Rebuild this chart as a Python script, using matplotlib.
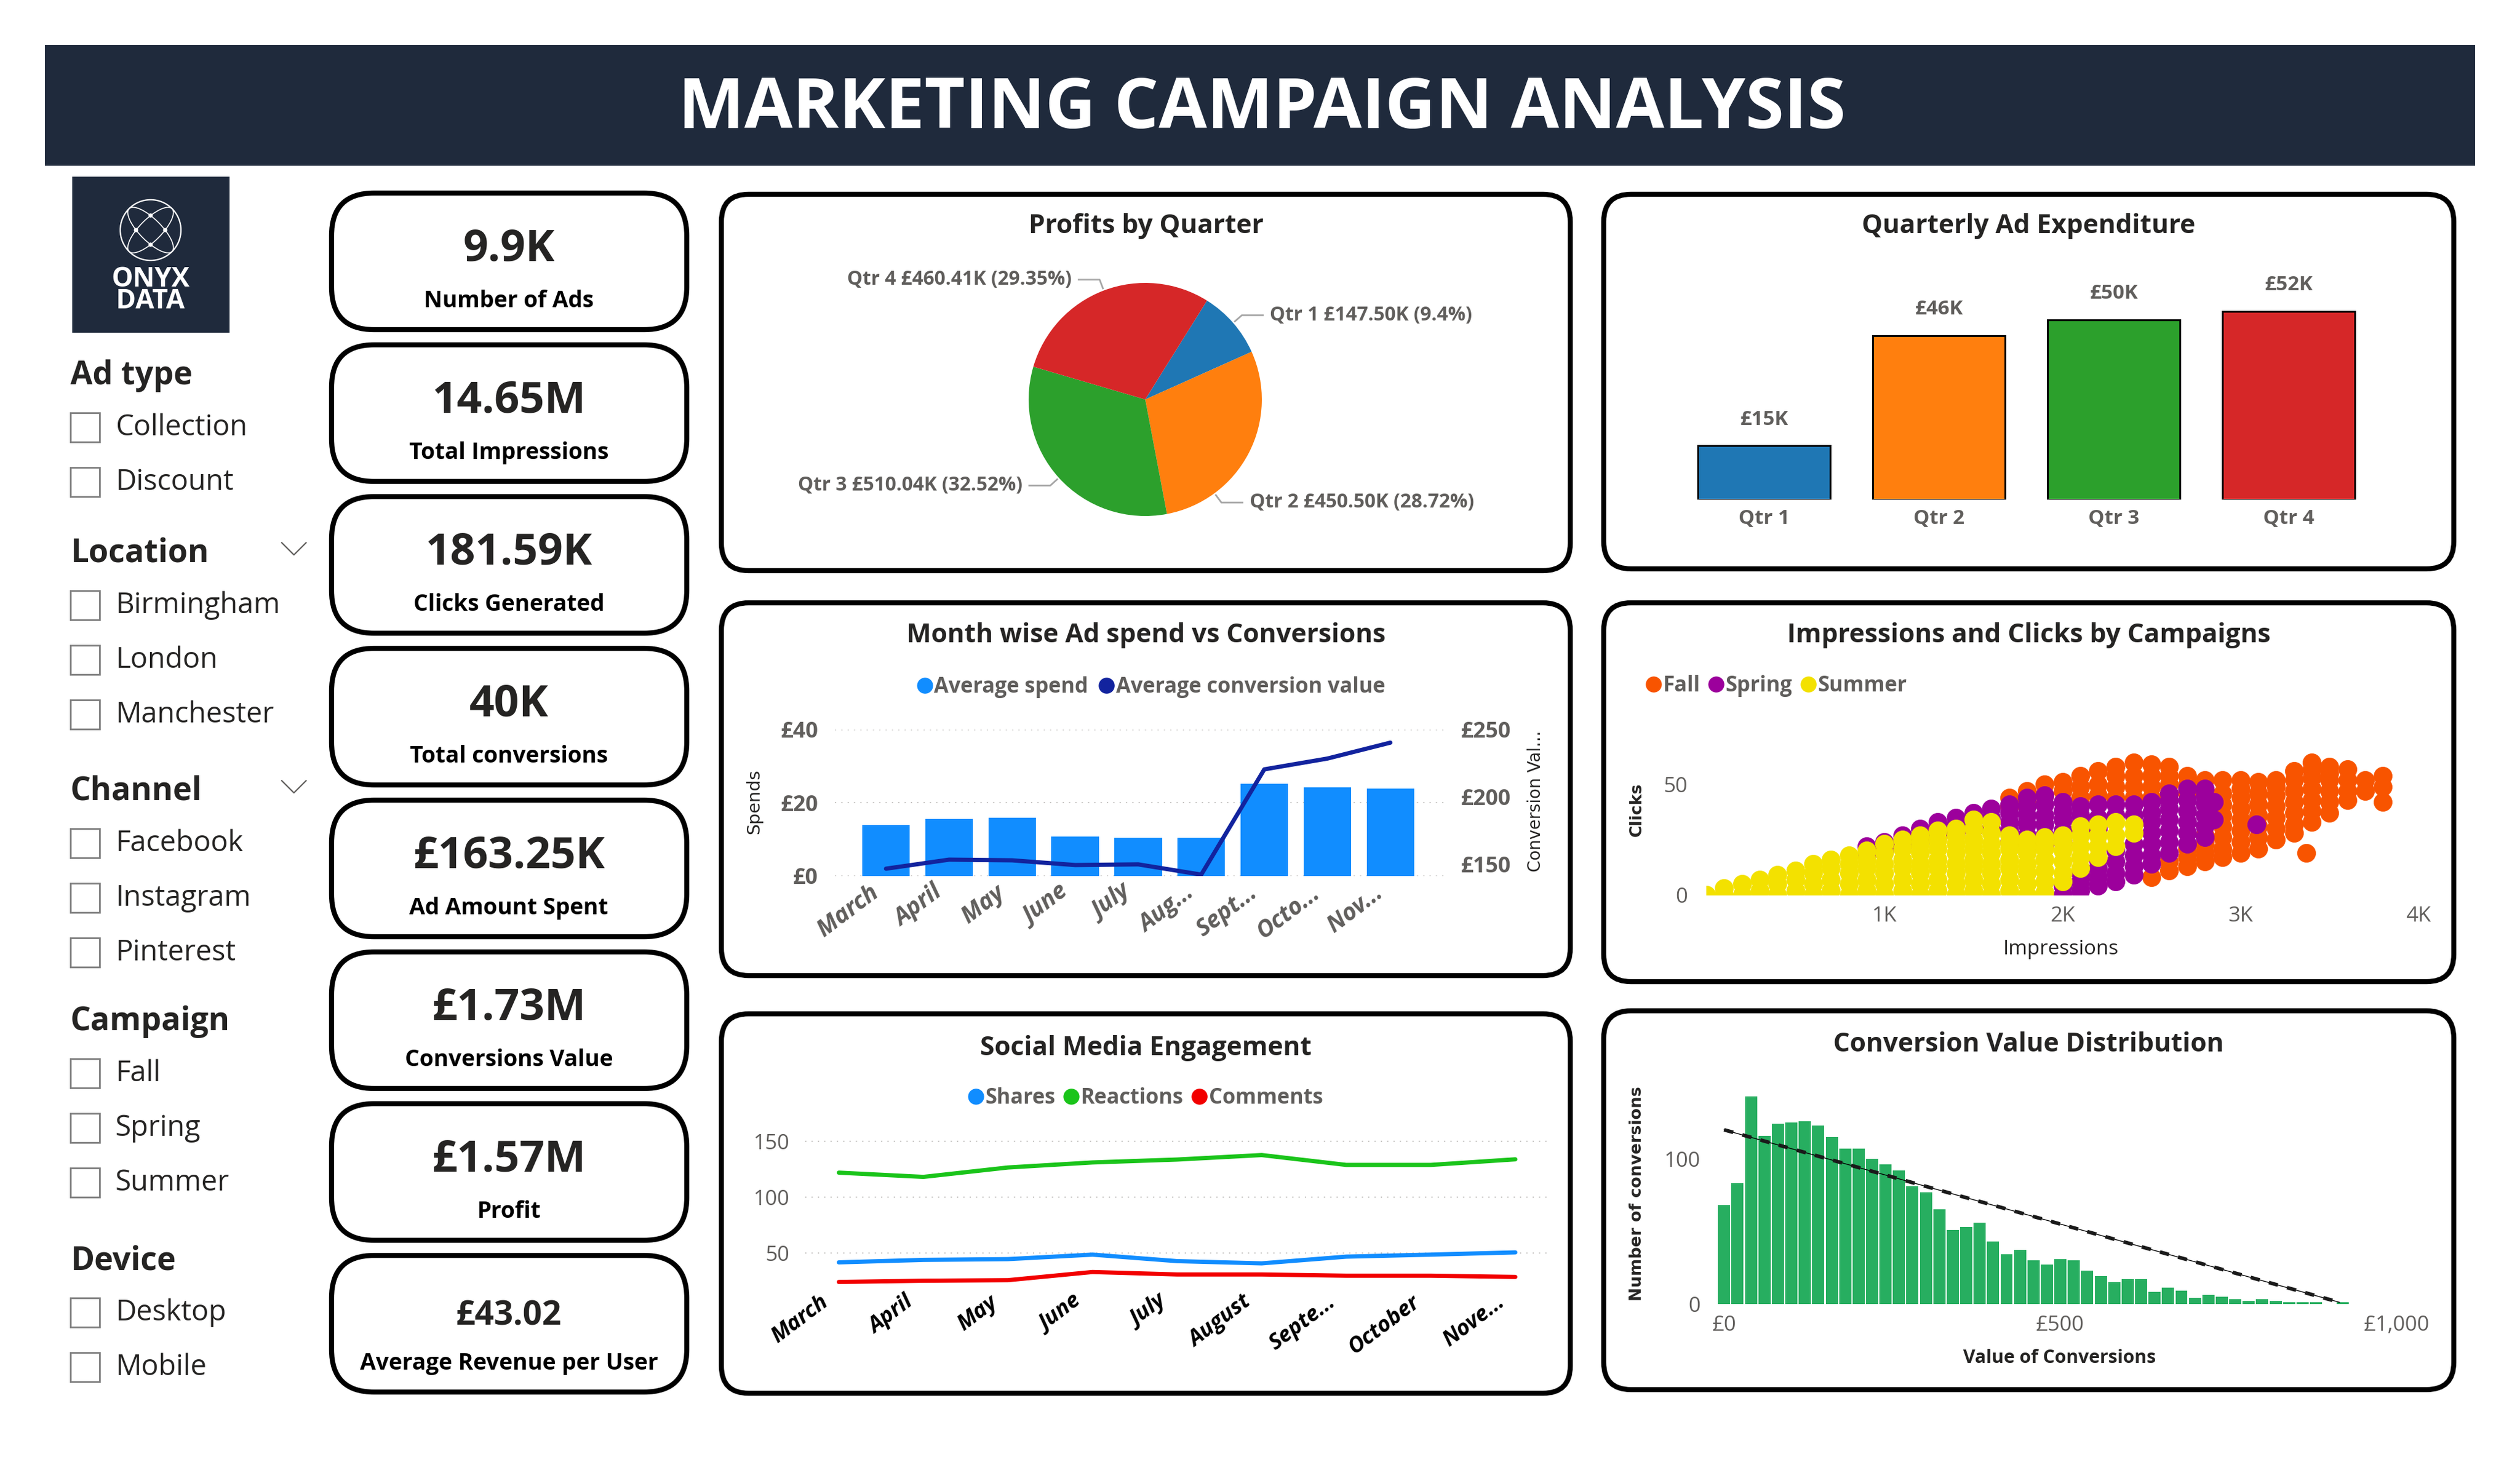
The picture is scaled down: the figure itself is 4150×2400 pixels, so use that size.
import matplotlib
matplotlib.use("Agg")
import matplotlib.pyplot as plt
import numpy as np
from matplotlib.patches import FancyBboxPatch, Rectangle, Circle, Ellipse
from matplotlib.lines import Line2D

plt.rcParams['font.family'] = ['Open Sans', 'DejaVu Sans']

W, H = 4150, 2400
NAVY = '#1f2a3c'
DARK = '#252423'
GRAY = '#605e5c'

# ---------------- data ----------------
kpi_values = ["9.9K", "14.65M", "181.59K", "40K", "£163.25K", "£1.73M", "£1.57M", "£43.02"]
kpi_labels = ["Number of Ads", "Total Impressions", "Clicks Generated", "Total conversions",
              "Ad Amount Spent", "Conversions Value", "Profit", "Average Revenue per User"]

filter_groups = ["Ad type", "Location", "Channel", "Campaign", "Device"]
filter_items = [["Collection", "Discount"],
                ["Birmingham", "London", "Manchester"],
                ["Facebook", "Instagram", "Pinterest"],
                ["Fall", "Spring", "Summer"],
                ["Desktop", "Mobile"]]
filter_dropdown = [False, True, True, False, False]

quarters = ["Qtr 1", "Qtr 2", "Qtr 3", "Qtr 4"]
profit_k = [147.50, 450.50, 510.04, 460.41]
profit_pct = ["9.4%", "28.72%", "32.52%", "29.35%"]
ad_spend_k = [15.0, 45.7, 50.1, 52.4]
quarter_colors = ['#1f77b4', '#ff7f0e', '#2ca02c', '#d62728']

months_short = ["March", "April", "May", "June", "July", "Aug...", "Sept...", "Octo...", "Nov..."]
avg_spend = [13.9, 15.5, 15.9, 10.7, 10.4, 10.4, 25.2, 24.2, 23.9]
avg_conv_value = [146.8, 153.5, 153.0, 149.5, 150.0, 142.4, 220.4, 228.4, 240.2]

months_social = ["March", "April", "May", "June", "July", "August", "Septe...", "October", "Nove..."]
shares = [41.8, 44.0, 44.7, 48.7, 42.9, 40.9, 46.9, 48.7, 50.7]
reactions = [121.9, 118.1, 126.5, 131.0, 133.6, 137.6, 128.8, 128.8, 133.8]
comments = [24.3, 25.4, 25.9, 33.2, 31.0, 31.0, 29.9, 29.9, 28.8]

# histogram of conversion values, bins of £20 starting at £0
conv_bin_width = 20
conv_counts = [68, 83, 143, 116, 124, 125, 126, 123, 115, 107, 107, 100, 96, 92, 81, 77,
               65, 51, 53, 56, 43, 34, 37, 30, 27, 31, 30, 23, 19, 15, 17, 17, 8, 11, 9,
               4, 6, 5, 3, 2, 3, 2, 1, 1, 1, 0, 1]
trend_x = [0, 915]
trend_y = [120, 1]

# scatter: impressions column -> clicks of the points in that column
fall_pts = {
    1700: [40, 44], 1800: [42, 47], 1900: [45, 50], 2000: [47, 51],
    2100: [44, 49, 54], 2200: [45, 50, 56], 2300: [44, 49, 54, 58],
    2400: [44, 49, 54, 60], 2500: [8, 44, 49, 54, 59], 2600: [11, 15, 46, 50, 54, 58],
    2700: [13, 17, 21, 46, 50, 54], 2800: [15, 19, 23, 27, 47, 52],
    2900: [17, 21, 26, 31, 36, 41, 46, 52], 3000: [19, 24, 29, 34, 39, 44, 48, 52],
    3100: [21, 26, 31, 36, 41, 46, 51], 3200: [25, 30, 35, 40, 45, 49, 52],
    3300: [28, 32, 37, 42, 47, 52, 56], 3370: [19], 3400: [33, 38, 43, 48, 53, 57, 60],
    3500: [37, 42, 47, 52, 55, 58], 3600: [43, 47, 52, 57], 3700: [47, 52],
    3800: [42, 49, 54],
}
spring_pts = {
    900: [18, 22], 1000: [20, 24], 1100: [22, 27], 1200: [24, 30],
    1300: [26, 30, 33], 1400: [28, 32, 35], 1500: [30, 34, 37], 1600: [30, 35, 39],
    1700: [24, 29, 33, 37, 41], 1800: [22, 27, 32, 36, 40, 44],
    1900: [0, 22, 27, 32, 36, 41, 45], 2000: [0, 4, 24, 29, 34, 38, 42],
    2100: [2, 6, 10, 28, 32, 36, 40], 2200: [4, 8, 12, 16, 30, 35, 41],
    2300: [6, 10, 15, 20, 36, 41], 2400: [9, 13, 18, 23, 36, 41],
    2500: [14, 18, 23, 28, 33, 37, 42], 2600: [19, 24, 29, 34, 39, 43, 46],
    2700: [23, 28, 33, 38, 43, 48], 2800: [26, 31, 36, 41, 45, 48],
    2850: [34, 42], 3090: [32],
}
summer_pts = {
    0: [0], 100: [0, 3], 200: [0, 5], 300: [2, 7], 400: [0, 5, 9], 500: [2, 7, 11],
    600: [0, 5, 10, 14], 700: [2, 7, 12, 16], 800: [0, 5, 10, 14, 18],
    900: [2, 7, 12, 16, 20], 1000: [0, 5, 10, 14, 19, 23], 1100: [2, 7, 12, 16, 21, 25],
    1200: [0, 5, 10, 14, 19, 23, 27], 1300: [2, 7, 12, 16, 21, 25, 29],
    1400: [0, 5, 10, 14, 19, 23, 27, 30], 1500: [2, 7, 12, 16, 21, 25, 30, 34],
    1600: [0, 5, 10, 14, 19, 23, 28, 33], 1700: [2, 7, 12, 16, 21, 24, 27],
    1800: [0, 5, 10, 14, 19, 22, 25], 1900: [1, 6, 11, 16, 21, 24, 26],
    2000: [6, 10, 15, 20, 24, 27], 2100: [12, 17, 22, 27, 31], 2200: [17, 22, 27, 32],
    2300: [22, 27, 33], 2400: [28, 32],
}
campaigns = ["Fall", "Spring", "Summer"]
campaign_pts = [fall_pts, spring_pts, summer_pts]
campaign_colors = ['#f85400', '#9c009c', '#f3e100']

# ---------------- canvas ----------------
fig = plt.figure(figsize=(W / 100, H / 100), dpi=100)
fig.patch.set_facecolor('white')
bg = fig.add_axes([0, 0, 1, 1])
bg.set_xlim(0, W)
bg.set_ylim(H, 0)
bg.axis('off')


def px_axes(x0, y0, x1, y1):
    a = fig.add_axes([x0 / W, 1 - y1 / H, (x1 - x0) / W, (y1 - y0) / H])
    a.patch.set_alpha(0)
    return a


def rbox(x0, y0, x1, y1, r, lw):
    bg.add_patch(FancyBboxPatch((x0, y0), x1 - x0, y1 - y0,
                                boxstyle=f"round,pad=0,rounding_size={r}",
                                fc='white', ec='black', lw=lw))


def clean(a):
    for s in a.spines.values():
        s.set_visible(False)
    a.tick_params(length=0)


# header band
bg.add_patch(Rectangle((74, 74), 4002, 199, fc=NAVY, ec='none'))
bg.text(2078, 182, "MARKETING CAMPAIGN ANALYSIS", color='white', fontsize=83,
        fontweight='bold', ha='center', va='center')

# logo
bg.add_patch(Rectangle((119, 291), 259, 257, fc=NAVY, ec='none'))
bg.add_patch(Circle((248, 379), 50, fc='none', ec='white', lw=1.6))
for ang in (45, -45):
    bg.add_patch(Ellipse((248, 379), 36, 100, angle=ang, fc='none', ec='white', lw=1.2))
for nx, ny in [(248, 355), (248, 403), (224, 379), (272, 379)]:
    bg.add_patch(Circle((nx, ny), 3.5, fc='white', ec='none'))
bg.text(248, 460, "ONYX", color='white', fontsize=32, fontweight='bold', ha='center', va='center')
bg.text(248, 497, "DATA", color='white', fontsize=32, fontweight='bold', ha='center', va='center')

# slicers
header_y = [619, 912, 1304, 1683, 2077]
for g, name in enumerate(filter_groups):
    y = header_y[g]
    bg.text(116, y, name, fontsize=38, fontweight='bold', color=DARK, va='center')
    if filter_dropdown[g]:
        bg.plot([464, 484, 504], [y - 18, y + 2, y - 18], color=GRAY, lw=1.6)
    for j, item in enumerate(filter_items[g]):
        yy = y + 85 + 90 * j
        bg.add_patch(Rectangle((116, yy - 24), 48, 48, fc='white', ec='#7f7f7f', lw=2))
        bg.text(190, yy, item, fontsize=34, color=DARK, va='center')

# KPI cards
for i, (v, lab) in enumerate(zip(kpi_values, kpi_labels)):
    top = 318 + 250 * i
    rbox(546, top, 1131, top + 225, 70, 6)
    big = i < len(kpi_values) - 1
    bg.text(838, top + (93 if big else 100), v, fontsize=52 if big else 40, fontweight='bold',
            color=DARK, ha='center', va='center')
    bg.text(838, top + 178, lab, fontsize=27, fontweight='bold', color='black',
            ha='center', va='center')

# chart panels
panels = [(1188, 320, 2586, 940, "Profits by Quarter", 373),
          (2641, 320, 4041, 937, "Quarterly Ad Expenditure", 373),
          (1188, 993, 2586, 1607, "Month wise Ad spend vs Conversions", 1046),
          (2641, 993, 4041, 1617, "Impressions and Clicks by Campaigns", 1046),
          (1188, 1670, 2586, 2295, "Social Media Engagement", 1726),
          (2641, 1665, 4041, 2289, "Conversion Value Distribution", 1721)]
for x0, y0, x1, y1, title, ty in panels:
    rbox(x0, y0, x1, y1, 45, 6)
    bg.text((x0 + x1) / 2, ty, title, fontsize=31, fontweight='bold', color=DARK,
            ha='center', va='center')

# ---- Profits by Quarter (pie) ----
k = 1.6
cx, cy, R = 1886, 658, 192
ax = px_axes(cx - k * R, cy - k * R, cx + k * R, cy + k * R)
wedges, _ = ax.pie(profit_k, colors=quarter_colors, startangle=58, counterclock=False,
                   radius=1, wedgeprops=dict(linewidth=0))
ax.set_xlim(-k, k)
ax.set_ylim(-k, k)
ax.axis('off')
nudge = [0, -26, 0, 0]
for i, w in enumerate(wedges):
    a = np.deg2rad((w.theta1 + w.theta2) / 2 + nudge[i])
    c, s = np.cos(a), np.sin(a)
    side = 1 if c > 0 else -1
    ex, ey = 1.1 * c, 1.1 * s
    lx = ex + side * 0.18
    ax.plot([1.02 * c, ex, lx], [1.02 * s, ey, ey], color='#a6a6a6', lw=2, clip_on=False)
    ax.text(lx + side * 0.06, ey, f"{quarters[i]} £{profit_k[i]:.2f}K ({profit_pct[i]})",
            ha='left' if side > 0 else 'right', va='center', fontsize=23,
            fontweight='bold', color=GRAY, clip_on=False)

# ---- Quarterly Ad Expenditure ----
ax = px_axes(2761, 468, 3913, 823)
ax.bar(range(4), ad_spend_k, width=0.76, color=quarter_colors, edgecolor='black', linewidth=2.2)
for i, v in enumerate(ad_spend_k):
    ax.annotate(f"£{v:.0f}K", (i, v), xytext=(0, 31), textcoords='offset points',
                ha='center', va='center', fontsize=24, fontweight='bold', color=GRAY)
ax.set_xlim(-0.5, 3.5)
ax.set_ylim(0, 60)
ax.set_yticks([])
ax.set_xticks(range(4))
ax.set_xticklabels(quarters, fontsize=24, fontweight='bold', color=GRAY)
clean(ax)
ax.tick_params(axis='x', pad=11)

# ---- Month wise Ad spend vs Conversions ----
ax = px_axes(1375, 1201.5, 2378, 1442.7)
x = np.arange(len(months_short))
ax.bar(x, avg_spend, width=0.755, color='#118dff', zorder=2)
ax.set_xlim(-0.81, 8.85)
ax.set_ylim(0, 40)
ax.set_yticks([0, 20, 40])
ax.set_yticklabels(["£0", "£20", "£40"], fontsize=26, fontweight='bold', color=GRAY)
ax.grid(axis='y', color='#c8c6c4', linestyle=(0, (1, 4)), lw=1.5, zorder=0)
# labels sit a little left of the bar centres, as in Power BI
ax.set_xticks(x - 0.27)
ax.set_xticklabels(months_short, rotation=37, ha='right', rotation_mode='anchor',
                   fontsize=28, fontweight='bold', fontstyle='italic', color=GRAY)
clean(ax)
ax.tick_params(axis='y', pad=20)
ax.tick_params(axis='x', pad=6)
ax2 = ax.twinx()
ax2.plot(x, avg_conv_value, color='#12239e', lw=5, solid_capstyle='round', solid_joinstyle='round')
ax2.set_ylim(141.5, 250)
ax2.set_yticks([150, 200, 250])
ax2.set_yticklabels(["£150", "£200", "£250"], fontsize=26, fontweight='bold', color=GRAY)
clean(ax2)
ax2.tick_params(axis='y', pad=20)
bg.text(1242, 1320, "Spends", family=['DejaVu Sans'], fontsize=21, color=DARK,
        rotation=90, ha='center', va='center')
bg.text(2529, 1320, "Conversion Val...", family=['DejaVu Sans'], fontsize=20, color=DARK,
        rotation=90, ha='center', va='center')
h = [Line2D([], [], ls='', marker='o', ms=18, color='#118dff'),
     Line2D([], [], ls='', marker='o', ms=18, color='#12239e')]
fig.legend(h, ["Average spend", "Average conversion value"], loc='center',
           bbox_to_anchor=(1894 / W, 1 - 1132 / H), ncol=2, frameon=False,
           handletextpad=0.0, columnspacing=0.4, handlelength=0.9,
           prop=dict(size=25, weight='bold'), labelcolor=GRAY)

# ---- Impressions and Clicks by Campaigns ----
ax = px_axes(2810, 1219.3, 3983, 1474)
for name, pts, col in zip(campaigns, campaign_pts, campaign_colors):
    xs = [imp for imp, cl in pts.items() for _ in cl]
    ys = [c for cl in pts.values() for c in cl]
    ax.scatter(xs, ys, s=470, color=col, edgecolors=col, linewidths=0.5)
ax.set_xlim(0, 4000)
ax.set_ylim(0, 70)
ax.set_xticks([1000, 2000, 3000, 4000])
ax.set_xticklabels(["1K", "2K", "3K", "4K"], fontsize=25, color=GRAY)
ax.set_yticks([0, 50])
ax.set_yticklabels(["0", "50"], fontsize=25, color=GRAY)
clean(ax)
ax.tick_params(axis='y', pad=22)
ax.tick_params(axis='x', pad=13)
bg.text(2696, 1334, "Clicks", family=['DejaVu Sans'], fontsize=19.5, fontweight='bold',
        color=DARK, rotation=90, ha='center', va='center')
bg.text(3394, 1563, "Impressions", fontsize=24, color=DARK, ha='center', va='center')
h = [Line2D([], [], ls='', marker='o', ms=18, color=c) for c in campaign_colors]
fig.legend(h, campaigns, loc='center left', bbox_to_anchor=(2676 / W, 1 - 1130 / H),
           ncol=3, frameon=False, handletextpad=0.0, columnspacing=0.3, handlelength=0.9,
           prop=dict(size=25, weight='bold'), labelcolor=GRAY)

# ---- Social Media Engagement ----
ax = px_axes(1325.7, 1865, 2547, 2123.3)
x = np.arange(len(months_social))
for vals, col in zip([shares, reactions, comments], ['#118dff', '#1ac41a', '#f20000']):
    ax.plot(x, vals, color=col, lw=5, solid_capstyle='round', solid_joinstyle='round')
ax.set_xlim(-0.4, 8.37)
ax.set_ylim(18, 158)
ax.set_yticks([50, 100, 150])
ax.set_yticklabels(["50", "100", "150"], fontsize=25, color=GRAY)
ax.grid(axis='y', color='#c8c6c4', linestyle=(0, (1, 4)), lw=1.5)
ax.set_axisbelow(True)
ax.set_xticks(x - 0.23)
ax.set_xticklabels(months_social, rotation=37, ha='right', rotation_mode='anchor',
                   fontsize=26, fontweight='bold', fontstyle='italic', color='black')
clean(ax)
ax.tick_params(axis='y', pad=18)
ax.tick_params(axis='x', pad=3)
h = [Line2D([], [], ls='', marker='o', ms=18, color=c) for c in ['#118dff', '#1ac41a', '#f20000']]
fig.legend(h, ["Shares", "Reactions", "Comments"], loc='center',
           bbox_to_anchor=(1885 / W, 1 - 1809 / H), ncol=3, frameon=False,
           handletextpad=0.0, columnspacing=0.3, handlelength=0.9,
           prop=dict(size=25, weight='bold'), labelcolor=GRAY)

# ---- Conversion Value Distribution ----
ax = px_axes(2822.7, 1789.4, 3958, 2147.6)
centers = np.arange(len(conv_counts)) * conv_bin_width
ax.bar(centers, conv_counts, width=conv_bin_width * 0.9, color='#27ae60')
ax.plot(trend_x, trend_y, color='black', lw=1)
ax.plot(trend_x, trend_y, color='#1a1a1a', lw=4.3, ls=(0, (2.6, 2.6)))
ax.set_xlim(-15, 1010)
ax.set_ylim(0, 150)
ax.set_xticks([0, 500, 1000])
ax.set_xticklabels(["£0", "£500", "£1,000"], fontsize=25, color=GRAY)
ax.set_yticks([0, 100])
ax.set_yticklabels(["0", "100"], fontsize=25, color=GRAY)
clean(ax)
ax.tick_params(axis='y', pad=16)
ax.tick_params(axis='x', pad=13)
bg.text(2696, 1966, "Number of conversions", family=['DejaVu Sans'], fontsize=19.5,
        fontweight='bold', color=DARK, rotation=90, ha='center', va='center')
bg.text(3392, 2237, "Value of Conversions", fontsize=22, fontweight='bold', color=DARK,
        ha='center', va='center')

fig.savefig("out.png", dpi=100, facecolor='white')
